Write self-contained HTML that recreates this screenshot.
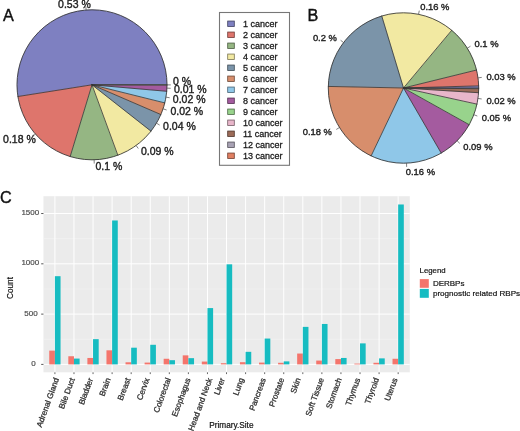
<!DOCTYPE html>
<html><head><meta charset="utf-8"><style>
html,body{margin:0;padding:0;background:#fff;}
svg{display:block;font-family:"Liberation Sans", sans-serif;filter:blur(0.35px);}
text{stroke:currentColor;stroke-width:0.38px;}
</style></head><body>
<svg width="520" height="431" viewBox="0 0 520 431">
<text x="3.1" y="21.0" font-size="16.2" text-anchor="start" fill="#111" color="#111" >A</text>
<text x="307.6" y="21.0" font-size="16.2" text-anchor="start" fill="#111" color="#111" >B</text>
<text x="0.0" y="203.0" font-size="16.2" text-anchor="start" fill="#111" color="#111" >C</text>
<path d="M92.00,84.80 L167.00,84.80 A75.0,75.0 0 1 0 17.92,96.53 Z" fill="#7E80C1" stroke="#7E80C1" stroke-width="0.3"/>
<path d="M92.00,84.80 L17.92,96.53 A75.0,75.0 0 0 0 70.17,156.55 Z" fill="#DE756C" stroke="#DE756C" stroke-width="0.3"/>
<path d="M92.00,84.80 L70.17,156.55 A75.0,75.0 0 0 0 117.85,155.21 Z" fill="#95B683" stroke="#95B683" stroke-width="0.3"/>
<path d="M92.00,84.80 L117.85,155.21 A75.0,75.0 0 0 0 150.97,131.14 Z" fill="#F2E9A2" stroke="#F2E9A2" stroke-width="0.3"/>
<path d="M92.00,84.80 L150.97,131.14 A75.0,75.0 0 0 0 160.85,114.54 Z" fill="#7B94A9" stroke="#7B94A9" stroke-width="0.3"/>
<path d="M92.00,84.80 L160.85,114.54 A75.0,75.0 0 0 0 164.78,102.90 Z" fill="#D78E6C" stroke="#D78E6C" stroke-width="0.3"/>
<path d="M92.00,84.80 L164.78,102.90 A75.0,75.0 0 0 0 166.72,91.29 Z" fill="#8FC7E8" stroke="#8FC7E8" stroke-width="0.3"/>
<path d="M92.00,84.80 L166.72,91.29 A75.0,75.0 0 0 0 167.00,84.99 Z" fill="#A45B9F" stroke="#A45B9F" stroke-width="0.3"/>
<path d="M92.00,84.80 L167.00,84.99 A75.0,75.0 0 0 0 167.00,84.80 Z" fill="#98D38C" stroke="#98D38C" stroke-width="0.3"/>
<line x1="92.0" y1="84.8" x2="167.00" y2="84.80" stroke="#333333" stroke-width="0.8" stroke-linecap="round"/>
<line x1="92.0" y1="84.8" x2="17.92" y2="96.53" stroke="#333333" stroke-width="0.8" stroke-linecap="round"/>
<line x1="92.0" y1="84.8" x2="70.17" y2="156.55" stroke="#333333" stroke-width="0.8" stroke-linecap="round"/>
<line x1="92.0" y1="84.8" x2="117.85" y2="155.21" stroke="#333333" stroke-width="0.8" stroke-linecap="round"/>
<line x1="92.0" y1="84.8" x2="150.97" y2="131.14" stroke="#333333" stroke-width="0.8" stroke-linecap="round"/>
<line x1="92.0" y1="84.8" x2="160.85" y2="114.54" stroke="#333333" stroke-width="0.8" stroke-linecap="round"/>
<line x1="92.0" y1="84.8" x2="164.78" y2="102.90" stroke="#333333" stroke-width="0.8" stroke-linecap="round"/>
<line x1="92.0" y1="84.8" x2="166.72" y2="91.29" stroke="#333333" stroke-width="0.8" stroke-linecap="round"/>
<line x1="92.0" y1="84.8" x2="167.00" y2="84.99" stroke="#333333" stroke-width="0.8" stroke-linecap="round"/>
<circle cx="92.0" cy="84.8" r="75.0" fill="none" stroke="#333333" stroke-width="0.85"/>
<text x="90.8" y="7.5" font-size="10.5" text-anchor="end" fill="#222" color="#222" >0.53 %</text>
<text x="35.8" y="142.5" font-size="10.5" text-anchor="end" fill="#222" color="#222" >0.18 %</text>
<text x="95.4" y="170.4" font-size="10.5" text-anchor="start" fill="#222" color="#222" >0.1 %</text>
<text x="140.9" y="154.6" font-size="10.5" text-anchor="start" fill="#222" color="#222" >0.09 %</text>
<text x="163.1" y="130.2" font-size="10.5" text-anchor="start" fill="#222" color="#222" >0.04 %</text>
<text x="170.4" y="114.7" font-size="10.5" text-anchor="start" fill="#222" color="#222" >0.02 %</text>
<text x="172.8" y="102.5" font-size="10.5" text-anchor="start" fill="#222" color="#222" >0.02 %</text>
<text x="173.9" y="92.6" font-size="10.5" text-anchor="start" fill="#222" color="#222" >0.01 %</text>
<text x="173.0" y="84.5" font-size="10.5" text-anchor="start" fill="#222" color="#222" >0 %</text>
<line x1="86.12" y1="10.03" x2="85.82" y2="6.29" stroke="#555" stroke-width="0.75"/>
<line x1="35.43" y1="134.04" x2="32.6" y2="136.51" stroke="#555" stroke-width="0.75"/>
<line x1="94.12" y1="159.77" x2="94.23" y2="163.52" stroke="#555" stroke-width="0.75"/>
<line x1="136.08" y1="145.48" x2="138.29" y2="148.51" stroke="#555" stroke-width="0.75"/>
<line x1="156.45" y1="123.16" x2="159.67" y2="125.08" stroke="#555" stroke-width="0.75"/>
<line x1="163.06" y1="108.8" x2="166.61" y2="110.0" stroke="#555" stroke-width="0.75"/>
<line x1="165.98" y1="97.14" x2="169.68" y2="97.75" stroke="#555" stroke-width="0.75"/>
<line x1="166.93" y1="88.14" x2="170.67" y2="88.31" stroke="#555" stroke-width="0.75"/>
<line x1="167.0" y1="84.89" x2="170.75" y2="84.9" stroke="#555" stroke-width="0.75"/>
<rect x="219.5" y="12.5" width="70" height="152.8" fill="#fff" stroke="#777" stroke-width="1.1"/>
<rect x="227.7" y="21.05" width="6.6" height="5.4" fill="#7E80C1" stroke="#3f4060" stroke-width="0.8"/>
<text x="243.0" y="26.95" font-size="9.0" text-anchor="start" fill="#1a1a1a" color="#1a1a1a" style="stroke-width:0.28px">1 cancer</text>
<rect x="227.7" y="32.05" width="6.6" height="5.4" fill="#DE756C" stroke="#6f3a36" stroke-width="0.8"/>
<text x="243.0" y="37.95" font-size="9.0" text-anchor="start" fill="#1a1a1a" color="#1a1a1a" style="stroke-width:0.28px">2 cancer</text>
<rect x="227.7" y="43.05" width="6.6" height="5.4" fill="#95B683" stroke="#4a5b41" stroke-width="0.8"/>
<text x="243.0" y="48.95" font-size="9.0" text-anchor="start" fill="#1a1a1a" color="#1a1a1a" style="stroke-width:0.28px">3 cancer</text>
<rect x="227.7" y="54.05" width="6.6" height="5.4" fill="#F2E9A2" stroke="#797451" stroke-width="0.8"/>
<text x="243.0" y="59.95" font-size="9.0" text-anchor="start" fill="#1a1a1a" color="#1a1a1a" style="stroke-width:0.28px">4 cancer</text>
<rect x="227.7" y="65.05" width="6.6" height="5.4" fill="#7B94A9" stroke="#3d4a54" stroke-width="0.8"/>
<text x="243.0" y="70.95" font-size="9.0" text-anchor="start" fill="#1a1a1a" color="#1a1a1a" style="stroke-width:0.28px">5 cancer</text>
<rect x="227.7" y="76.05" width="6.6" height="5.4" fill="#D78E6C" stroke="#6b4736" stroke-width="0.8"/>
<text x="243.0" y="81.95" font-size="9.0" text-anchor="start" fill="#1a1a1a" color="#1a1a1a" style="stroke-width:0.28px">6 cancer</text>
<rect x="227.7" y="87.05" width="6.6" height="5.4" fill="#8FC7E8" stroke="#476374" stroke-width="0.8"/>
<text x="243.0" y="92.95" font-size="9.0" text-anchor="start" fill="#1a1a1a" color="#1a1a1a" style="stroke-width:0.28px">7 cancer</text>
<rect x="227.7" y="98.05" width="6.6" height="5.4" fill="#A45B9F" stroke="#522d4f" stroke-width="0.8"/>
<text x="243.0" y="103.95" font-size="9.0" text-anchor="start" fill="#1a1a1a" color="#1a1a1a" style="stroke-width:0.28px">8 cancer</text>
<rect x="227.7" y="109.05" width="6.6" height="5.4" fill="#98D38C" stroke="#4c6946" stroke-width="0.8"/>
<text x="243.0" y="114.95" font-size="9.0" text-anchor="start" fill="#1a1a1a" color="#1a1a1a" style="stroke-width:0.28px">9 cancer</text>
<rect x="227.7" y="120.05" width="6.6" height="5.4" fill="#E8B6CA" stroke="#745b65" stroke-width="0.8"/>
<text x="243.0" y="125.95" font-size="9.0" text-anchor="start" fill="#1a1a1a" color="#1a1a1a" style="stroke-width:0.28px">10 cancer</text>
<rect x="227.7" y="131.05" width="6.6" height="5.4" fill="#9C6B58" stroke="#4e352c" stroke-width="0.8"/>
<text x="243.0" y="136.95" font-size="9.0" text-anchor="start" fill="#1a1a1a" color="#1a1a1a" style="stroke-width:0.28px">11 cancer</text>
<rect x="227.7" y="142.05" width="6.6" height="5.4" fill="#A8A2B4" stroke="#54515a" stroke-width="0.8"/>
<text x="243.0" y="147.95" font-size="9.0" text-anchor="start" fill="#1a1a1a" color="#1a1a1a" style="stroke-width:0.28px">12 cancer</text>
<rect x="227.7" y="153.05" width="6.6" height="5.4" fill="#E07F62" stroke="#703f31" stroke-width="0.8"/>
<text x="243.0" y="158.95" font-size="9.0" text-anchor="start" fill="#1a1a1a" color="#1a1a1a" style="stroke-width:0.28px">13 cancer</text>
<path d="M403.50,88.00 L478.70,88.00 A75.2,75.2 0 0 0 478.67,85.87 Z" fill="#7E80C1" stroke="#7E80C1" stroke-width="0.3"/>
<path d="M403.50,88.00 L478.67,85.87 A75.2,75.2 0 0 0 476.52,70.03 Z" fill="#DE756C" stroke="#DE756C" stroke-width="0.3"/>
<path d="M403.50,88.00 L476.52,70.03 A75.2,75.2 0 0 0 451.72,30.30 Z" fill="#95B683" stroke="#95B683" stroke-width="0.3"/>
<path d="M403.50,88.00 L451.72,30.30 A75.2,75.2 0 0 0 381.75,16.01 Z" fill="#F2E9A2" stroke="#F2E9A2" stroke-width="0.3"/>
<path d="M403.50,88.00 L381.75,16.01 A75.2,75.2 0 0 0 328.32,86.44 Z" fill="#7B94A9" stroke="#7B94A9" stroke-width="0.3"/>
<path d="M403.50,88.00 L328.32,86.44 A75.2,75.2 0 0 0 371.14,155.88 Z" fill="#D78E6C" stroke="#D78E6C" stroke-width="0.3"/>
<path d="M403.50,88.00 L371.14,155.88 A75.2,75.2 0 0 0 441.21,153.06 Z" fill="#8FC7E8" stroke="#8FC7E8" stroke-width="0.3"/>
<path d="M403.50,88.00 L441.21,153.06 A75.2,75.2 0 0 0 469.15,124.68 Z" fill="#A45B9F" stroke="#A45B9F" stroke-width="0.3"/>
<path d="M403.50,88.00 L469.15,124.68 A75.2,75.2 0 0 0 476.95,104.13 Z" fill="#98D38C" stroke="#98D38C" stroke-width="0.3"/>
<path d="M403.50,88.00 L476.95,104.13 A75.2,75.2 0 0 0 478.55,92.72 Z" fill="#E8B6CA" stroke="#E8B6CA" stroke-width="0.3"/>
<path d="M403.50,88.00 L478.55,92.72 A75.2,75.2 0 0 0 478.70,88.71 Z" fill="#9C6B58" stroke="#9C6B58" stroke-width="0.3"/>
<path d="M403.50,88.00 L478.70,88.71 A75.2,75.2 0 0 0 478.70,88.00 Z" fill="#A8A2B4" stroke="#A8A2B4" stroke-width="0.3"/>
<line x1="403.5" y1="88.0" x2="478.70" y2="88.00" stroke="#333333" stroke-width="0.8" stroke-linecap="round"/>
<line x1="403.5" y1="88.0" x2="478.67" y2="85.87" stroke="#333333" stroke-width="0.8" stroke-linecap="round"/>
<line x1="403.5" y1="88.0" x2="476.52" y2="70.03" stroke="#333333" stroke-width="0.8" stroke-linecap="round"/>
<line x1="403.5" y1="88.0" x2="451.72" y2="30.30" stroke="#333333" stroke-width="0.8" stroke-linecap="round"/>
<line x1="403.5" y1="88.0" x2="381.75" y2="16.01" stroke="#333333" stroke-width="0.8" stroke-linecap="round"/>
<line x1="403.5" y1="88.0" x2="328.32" y2="86.44" stroke="#333333" stroke-width="0.8" stroke-linecap="round"/>
<line x1="403.5" y1="88.0" x2="371.14" y2="155.88" stroke="#333333" stroke-width="0.8" stroke-linecap="round"/>
<line x1="403.5" y1="88.0" x2="441.21" y2="153.06" stroke="#333333" stroke-width="0.8" stroke-linecap="round"/>
<line x1="403.5" y1="88.0" x2="469.15" y2="124.68" stroke="#333333" stroke-width="0.8" stroke-linecap="round"/>
<line x1="403.5" y1="88.0" x2="476.95" y2="104.13" stroke="#333333" stroke-width="0.8" stroke-linecap="round"/>
<line x1="403.5" y1="88.0" x2="478.55" y2="92.72" stroke="#333333" stroke-width="0.8" stroke-linecap="round"/>
<line x1="403.5" y1="88.0" x2="478.70" y2="88.71" stroke="#333333" stroke-width="0.8" stroke-linecap="round"/>
<circle cx="403.5" cy="88.0" r="75.2" fill="none" stroke="#333333" stroke-width="0.85"/>
<text x="420.2" y="9.5" font-size="9.4" text-anchor="start" fill="#222" color="#222" >0.16 %</text>
<text x="474.5" y="46.8" font-size="9.4" text-anchor="start" fill="#222" color="#222" >0.1 %</text>
<text x="486.4" y="79.6" font-size="9.4" text-anchor="start" fill="#222" color="#222" >0.03 %</text>
<text x="486.4" y="103.7" font-size="9.4" text-anchor="start" fill="#222" color="#222" >0.02 %</text>
<text x="481.8" y="120.7" font-size="9.4" text-anchor="start" fill="#222" color="#222" >0.05 %</text>
<text x="463.3" y="150.3" font-size="9.4" text-anchor="start" fill="#222" color="#222" >0.09 %</text>
<text x="405.8" y="174.8" font-size="9.4" text-anchor="start" fill="#222" color="#222" >0.16 %</text>
<text x="331.9" y="134.6" font-size="9.4" text-anchor="end" fill="#222" color="#222" >0.18 %</text>
<text x="336.9" y="41.2" font-size="9.4" text-anchor="end" fill="#222" color="#222" >0.2 %</text>
<line x1="478.02" y1="77.9" x2="481.74" y2="77.39" stroke="#555" stroke-width="0.75"/>
<line x1="467.3" y1="48.19" x2="470.49" y2="46.19" stroke="#555" stroke-width="0.75"/>
<line x1="418.54" y1="14.32" x2="419.29" y2="10.64" stroke="#555" stroke-width="0.75"/>
<line x1="343.59" y1="42.55" x2="340.6" y2="40.27" stroke="#555" stroke-width="0.75"/>
<line x1="339.49" y1="127.47" x2="336.29" y2="129.45" stroke="#555" stroke-width="0.75"/>
<line x1="406.52" y1="163.14" x2="406.67" y2="166.9" stroke="#555" stroke-width="0.75"/>
<line x1="457.09" y1="140.76" x2="459.77" y2="143.39" stroke="#555" stroke-width="0.75"/>
<line x1="473.8" y1="114.69" x2="477.32" y2="116.03" stroke="#555" stroke-width="0.75"/>
<line x1="477.97" y1="98.46" x2="481.69" y2="98.98" stroke="#555" stroke-width="0.75"/>
<rect x="43.45" y="196.2" width="366.35" height="176.10" fill="#EBEBEB"/>
<line x1="43.45" y1="339.255" x2="409.8" y2="339.255" stroke="#F4F4F4" stroke-width="0.6"/>
<line x1="43.45" y1="288.965" x2="409.8" y2="288.965" stroke="#F4F4F4" stroke-width="0.6"/>
<line x1="43.45" y1="238.67499999999995" x2="409.8" y2="238.67499999999995" stroke="#F4F4F4" stroke-width="0.6"/>
<line x1="43.45" y1="364.4" x2="409.8" y2="364.4" stroke="#FFFFFF" stroke-width="1.0"/>
<line x1="43.45" y1="314.10999999999996" x2="409.8" y2="314.10999999999996" stroke="#FFFFFF" stroke-width="1.0"/>
<line x1="43.45" y1="263.82" x2="409.8" y2="263.82" stroke="#FFFFFF" stroke-width="1.0"/>
<line x1="43.45" y1="213.52999999999997" x2="409.8" y2="213.52999999999997" stroke="#FFFFFF" stroke-width="1.0"/>
<line x1="54.9" y1="196.2" x2="54.9" y2="372.3" stroke="#FFFFFF" stroke-width="1.0"/>
<line x1="73.97" y1="196.2" x2="73.97" y2="372.3" stroke="#FFFFFF" stroke-width="1.0"/>
<line x1="93.03999999999999" y1="196.2" x2="93.03999999999999" y2="372.3" stroke="#FFFFFF" stroke-width="1.0"/>
<line x1="112.11" y1="196.2" x2="112.11" y2="372.3" stroke="#FFFFFF" stroke-width="1.0"/>
<line x1="131.18" y1="196.2" x2="131.18" y2="372.3" stroke="#FFFFFF" stroke-width="1.0"/>
<line x1="150.25" y1="196.2" x2="150.25" y2="372.3" stroke="#FFFFFF" stroke-width="1.0"/>
<line x1="169.32" y1="196.2" x2="169.32" y2="372.3" stroke="#FFFFFF" stroke-width="1.0"/>
<line x1="188.39000000000001" y1="196.2" x2="188.39000000000001" y2="372.3" stroke="#FFFFFF" stroke-width="1.0"/>
<line x1="207.46" y1="196.2" x2="207.46" y2="372.3" stroke="#FFFFFF" stroke-width="1.0"/>
<line x1="226.53" y1="196.2" x2="226.53" y2="372.3" stroke="#FFFFFF" stroke-width="1.0"/>
<line x1="245.6" y1="196.2" x2="245.6" y2="372.3" stroke="#FFFFFF" stroke-width="1.0"/>
<line x1="264.67" y1="196.2" x2="264.67" y2="372.3" stroke="#FFFFFF" stroke-width="1.0"/>
<line x1="283.74" y1="196.2" x2="283.74" y2="372.3" stroke="#FFFFFF" stroke-width="1.0"/>
<line x1="302.81" y1="196.2" x2="302.81" y2="372.3" stroke="#FFFFFF" stroke-width="1.0"/>
<line x1="321.88" y1="196.2" x2="321.88" y2="372.3" stroke="#FFFFFF" stroke-width="1.0"/>
<line x1="340.95" y1="196.2" x2="340.95" y2="372.3" stroke="#FFFFFF" stroke-width="1.0"/>
<line x1="360.02" y1="196.2" x2="360.02" y2="372.3" stroke="#FFFFFF" stroke-width="1.0"/>
<line x1="379.09" y1="196.2" x2="379.09" y2="372.3" stroke="#FFFFFF" stroke-width="1.0"/>
<line x1="398.15999999999997" y1="196.2" x2="398.15999999999997" y2="372.3" stroke="#FFFFFF" stroke-width="1.0"/>
<rect x="49.25" y="350.62" width="5.65" height="13.78" fill="#F4756C"/>
<rect x="54.90" y="276.19" width="5.65" height="88.21" fill="#16BCC1"/>
<rect x="68.32" y="356.25" width="5.65" height="8.15" fill="#F4756C"/>
<rect x="73.97" y="358.57" width="5.65" height="5.83" fill="#16BCC1"/>
<rect x="87.39" y="357.96" width="5.65" height="6.44" fill="#F4756C"/>
<rect x="93.04" y="339.15" width="5.65" height="25.25" fill="#16BCC1"/>
<rect x="106.46" y="350.32" width="5.65" height="14.08" fill="#F4756C"/>
<rect x="112.11" y="220.47" width="5.65" height="143.93" fill="#16BCC1"/>
<rect x="125.53" y="362.29" width="5.65" height="2.11" fill="#F4756C"/>
<rect x="131.18" y="347.70" width="5.65" height="16.70" fill="#16BCC1"/>
<rect x="144.60" y="362.59" width="5.65" height="1.81" fill="#F4756C"/>
<rect x="150.25" y="344.79" width="5.65" height="19.61" fill="#16BCC1"/>
<rect x="163.67" y="358.77" width="5.65" height="5.63" fill="#F4756C"/>
<rect x="169.32" y="360.18" width="5.65" height="4.22" fill="#16BCC1"/>
<rect x="182.74" y="355.35" width="5.65" height="9.05" fill="#F4756C"/>
<rect x="188.39" y="358.16" width="5.65" height="6.24" fill="#16BCC1"/>
<rect x="201.81" y="361.58" width="5.65" height="2.82" fill="#F4756C"/>
<rect x="207.46" y="308.08" width="5.65" height="56.32" fill="#16BCC1"/>
<rect x="220.88" y="363.19" width="5.65" height="1.21" fill="#F4756C"/>
<rect x="226.53" y="264.32" width="5.65" height="100.08" fill="#16BCC1"/>
<rect x="239.95" y="362.19" width="5.65" height="2.21" fill="#F4756C"/>
<rect x="245.60" y="351.83" width="5.65" height="12.57" fill="#16BCC1"/>
<rect x="259.02" y="362.59" width="5.65" height="1.81" fill="#F4756C"/>
<rect x="264.67" y="338.55" width="5.65" height="25.85" fill="#16BCC1"/>
<rect x="278.09" y="362.79" width="5.65" height="1.61" fill="#F4756C"/>
<rect x="283.74" y="361.38" width="5.65" height="3.02" fill="#16BCC1"/>
<rect x="297.16" y="353.54" width="5.65" height="10.86" fill="#F4756C"/>
<rect x="302.81" y="326.88" width="5.65" height="37.52" fill="#16BCC1"/>
<rect x="316.23" y="360.58" width="5.65" height="3.82" fill="#F4756C"/>
<rect x="321.88" y="323.97" width="5.65" height="40.43" fill="#16BCC1"/>
<rect x="335.30" y="359.07" width="5.65" height="5.33" fill="#F4756C"/>
<rect x="340.95" y="357.96" width="5.65" height="6.44" fill="#16BCC1"/>
<rect x="354.37" y="363.60" width="5.65" height="0.80" fill="#F4756C"/>
<rect x="360.02" y="343.38" width="5.65" height="21.02" fill="#16BCC1"/>
<rect x="373.44" y="362.79" width="5.65" height="1.61" fill="#F4756C"/>
<rect x="379.09" y="358.37" width="5.65" height="6.03" fill="#16BCC1"/>
<rect x="392.51" y="358.77" width="5.65" height="5.63" fill="#F4756C"/>
<rect x="398.16" y="204.48" width="5.65" height="159.92" fill="#16BCC1"/>
<line x1="41.2" y1="364.4" x2="43.45" y2="364.4" stroke="#444" stroke-width="0.9"/>
<text x="35.6" y="365.79999999999995" font-size="8.0" text-anchor="end" fill="#4D4D4D" color="#4D4D4D" style="stroke-width:0.2px">0</text>
<line x1="41.2" y1="314.10999999999996" x2="43.45" y2="314.10999999999996" stroke="#444" stroke-width="0.9"/>
<text x="37.6" y="315.50999999999993" font-size="8.0" text-anchor="end" fill="#4D4D4D" color="#4D4D4D" style="stroke-width:0.2px">500</text>
<line x1="41.2" y1="263.82" x2="43.45" y2="263.82" stroke="#444" stroke-width="0.9"/>
<text x="39.2" y="265.21999999999997" font-size="8.0" text-anchor="end" fill="#4D4D4D" color="#4D4D4D" style="stroke-width:0.2px">1000</text>
<line x1="41.2" y1="213.52999999999997" x2="43.45" y2="213.52999999999997" stroke="#444" stroke-width="0.9"/>
<text x="39.2" y="214.92999999999998" font-size="8.0" text-anchor="end" fill="#4D4D4D" color="#4D4D4D" style="stroke-width:0.2px">1500</text>
<line x1="54.9" y1="372.3" x2="54.9" y2="374.1" stroke="#555" stroke-width="0.9"/>
<text x="59.15" y="379.10" font-size="8.1" text-anchor="end" fill="#333" color="#333" style="stroke-width:0.3px" transform="rotate(-70 59.15 379.10)">Adrenal Gland</text>
<line x1="73.97" y1="372.3" x2="73.97" y2="374.1" stroke="#555" stroke-width="0.9"/>
<text x="74.91" y="379.10" font-size="8.1" text-anchor="end" fill="#333" color="#333" style="stroke-width:0.3px" transform="rotate(-70 74.91 379.10)">Bile Duct</text>
<line x1="93.03999999999999" y1="372.3" x2="93.03999999999999" y2="374.1" stroke="#555" stroke-width="0.9"/>
<text x="93.21" y="379.10" font-size="8.1" text-anchor="end" fill="#333" color="#333" style="stroke-width:0.3px" transform="rotate(-70 93.21 379.10)">Bladder</text>
<line x1="112.11" y1="372.3" x2="112.11" y2="374.1" stroke="#555" stroke-width="0.9"/>
<text x="110.74" y="379.10" font-size="8.1" text-anchor="end" fill="#333" color="#333" style="stroke-width:0.3px" transform="rotate(-70 110.74 379.10)">Brain</text>
<line x1="131.18" y1="372.3" x2="131.18" y2="374.1" stroke="#555" stroke-width="0.9"/>
<text x="130.58" y="379.10" font-size="8.1" text-anchor="end" fill="#333" color="#333" style="stroke-width:0.3px" transform="rotate(-70 130.58 379.10)">Breast</text>
<line x1="150.25" y1="372.3" x2="150.25" y2="374.1" stroke="#555" stroke-width="0.9"/>
<text x="149.57" y="379.10" font-size="8.1" text-anchor="end" fill="#333" color="#333" style="stroke-width:0.3px" transform="rotate(-70 149.57 379.10)">Cervix</text>
<line x1="169.32" y1="372.3" x2="169.32" y2="374.1" stroke="#555" stroke-width="0.9"/>
<text x="170.96" y="379.10" font-size="8.1" text-anchor="end" fill="#333" color="#333" style="stroke-width:0.3px" transform="rotate(-70 170.96 379.10)">Colorectal</text>
<line x1="188.39000000000001" y1="372.3" x2="188.39000000000001" y2="374.1" stroke="#555" stroke-width="0.9"/>
<text x="190.72" y="379.10" font-size="8.1" text-anchor="end" fill="#333" color="#333" style="stroke-width:0.3px" transform="rotate(-70 190.72 379.10)">Esophagus</text>
<line x1="207.46" y1="372.3" x2="207.46" y2="374.1" stroke="#555" stroke-width="0.9"/>
<text x="212.41" y="379.10" font-size="8.1" text-anchor="end" fill="#333" color="#333" style="stroke-width:0.3px" transform="rotate(-70 212.41 379.10)">Head and Neck</text>
<line x1="226.53" y1="372.3" x2="226.53" y2="374.1" stroke="#555" stroke-width="0.9"/>
<text x="224.93" y="379.10" font-size="8.1" text-anchor="end" fill="#333" color="#333" style="stroke-width:0.3px" transform="rotate(-70 224.93 379.10)">Liver</text>
<line x1="245.6" y1="372.3" x2="245.6" y2="374.1" stroke="#555" stroke-width="0.9"/>
<text x="244.08" y="379.10" font-size="8.1" text-anchor="end" fill="#333" color="#333" style="stroke-width:0.3px" transform="rotate(-70 244.08 379.10)">Lung</text>
<line x1="264.67" y1="372.3" x2="264.67" y2="374.1" stroke="#555" stroke-width="0.9"/>
<text x="265.92" y="379.10" font-size="8.1" text-anchor="end" fill="#333" color="#333" style="stroke-width:0.3px" transform="rotate(-70 265.92 379.10)">Pancreas</text>
<line x1="283.74" y1="372.3" x2="283.74" y2="374.1" stroke="#555" stroke-width="0.9"/>
<text x="284.30" y="379.10" font-size="8.1" text-anchor="end" fill="#333" color="#333" style="stroke-width:0.3px" transform="rotate(-70 284.30 379.10)">Prostate</text>
<line x1="302.81" y1="372.3" x2="302.81" y2="374.1" stroke="#555" stroke-width="0.9"/>
<text x="300.90" y="379.10" font-size="8.1" text-anchor="end" fill="#333" color="#333" style="stroke-width:0.3px" transform="rotate(-70 300.90 379.10)">Skin</text>
<line x1="321.88" y1="372.3" x2="321.88" y2="374.1" stroke="#555" stroke-width="0.9"/>
<text x="324.13" y="379.10" font-size="8.1" text-anchor="end" fill="#333" color="#333" style="stroke-width:0.3px" transform="rotate(-70 324.13 379.10)">Soft Tissue</text>
<line x1="340.95" y1="372.3" x2="340.95" y2="374.1" stroke="#555" stroke-width="0.9"/>
<text x="341.82" y="379.10" font-size="8.1" text-anchor="end" fill="#333" color="#333" style="stroke-width:0.3px" transform="rotate(-70 341.82 379.10)">Stomach</text>
<line x1="360.02" y1="372.3" x2="360.02" y2="374.1" stroke="#555" stroke-width="0.9"/>
<text x="360.35" y="379.10" font-size="8.1" text-anchor="end" fill="#333" color="#333" style="stroke-width:0.3px" transform="rotate(-70 360.35 379.10)">Thymus</text>
<line x1="379.09" y1="372.3" x2="379.09" y2="374.1" stroke="#555" stroke-width="0.9"/>
<text x="379.11" y="379.10" font-size="8.1" text-anchor="end" fill="#333" color="#333" style="stroke-width:0.3px" transform="rotate(-70 379.11 379.10)">Thyroid</text>
<line x1="398.15999999999997" y1="372.3" x2="398.15999999999997" y2="374.1" stroke="#555" stroke-width="0.9"/>
<text x="397.64" y="379.10" font-size="8.1" text-anchor="end" fill="#333" color="#333" style="stroke-width:0.3px" transform="rotate(-70 397.64 379.10)">Uterus</text>
<text x="0" y="0" font-size="8.2" text-anchor="middle" fill="#111" color="#111" style="stroke-width:0.2px" transform="translate(13,288.0) rotate(-90)">Count</text>
<text x="209.2" y="427.9" font-size="8.25" text-anchor="start" fill="#111" color="#111" style="stroke-width:0.2px">Primary.Site</text>
<text x="419.6" y="272.6" font-size="7.8" text-anchor="start" fill="#111" color="#111" style="stroke-width:0.2px">Legend</text>
<rect x="419.8" y="279.1" width="9" height="8.7" fill="#F4756C"/>
<rect x="419.8" y="288.9" width="9" height="8.9" fill="#16BCC2"/>
<text x="432.9" y="285.9" font-size="8.0" text-anchor="start" fill="#111" color="#111" style="stroke-width:0.2px">DERBPs</text>
<text x="432.9" y="295.6" font-size="8.1" text-anchor="start" fill="#111" color="#111" style="stroke-width:0.2px">prognostic related RBPs</text>
</svg>
</body></html>
